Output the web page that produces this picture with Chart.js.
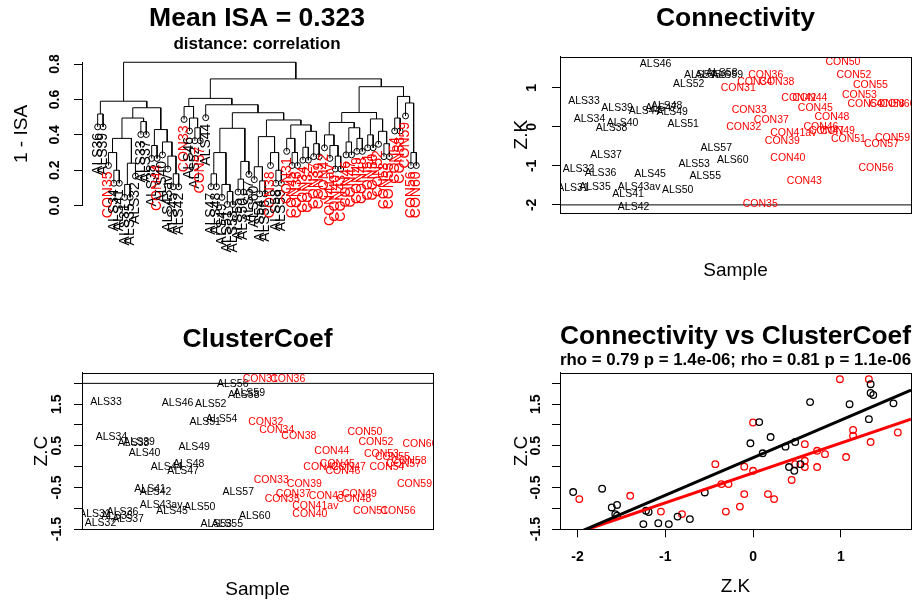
<!DOCTYPE html>
<html>
<head>
<meta charset="utf-8">
<title>Sample network</title>
<script src="https://cdn.jsdelivr.net/npm/chart.js@4.4.1/dist/chart.umd.min.js"></script>
<style>
  html, body { margin: 0; padding: 0; background: #ffffff; }
  #page { position: relative; width: 920px; height: 603px; overflow: hidden; background: #fff; }
  #page canvas { position: absolute; left: 0; top: 0; }
</style>
</head>
<body>
<div id="page">
  <canvas id="dendro" width="920" height="603"></canvas>
  <canvas id="conn" width="920" height="603"></canvas>
  <canvas id="clust" width="920" height="603"></canvas>
  <canvas id="corr" width="920" height="603"></canvas>
</div>
<script>
// ---------------- data ----------------
const sampleNames = [
  "ALS31","ALS32","ALS33","ALS34","ALS35","ALS36","ALS37","ALS38","ALS39","ALS40",
  "ALS41","ALS42","ALS43av","ALS44","ALS45","ALS46","ALS47","ALS48","ALS49","ALS50",
  "ALS51","ALS52","ALS53","ALS54","ALS55","ALS56","ALS57","ALS58","ALS59","ALS60",
  "CON31","CON32","CON33","CON34","CON35","CON36","CON37","CON38","CON39","CON40",
  "CON41av","CON42","CON43","CON44","CON45","CON46","CON47","CON48","CON49","CON50",
  "CON51","CON52","CON53","CON54","CON55","CON56","CON57","CON58","CON59","CON60"
];
const sampleIndex = [
  1,2,3,4,5,6,7,8,9,10,11,12,13,14,15,16,17,18,19,20,21,22,23,24,25,26,27,28,29,30,
  31,32,33,34,35,36,37,38,39,40,41,42,43,44,45,46,47,48,49,50,51,52,53,54,55,56,57,58,59,60
];
const connectivityZK = [
  -1.57,-1.08,0.65,0.20,-1.55,-1.19,-0.72,-0.03,0.48,0.11,
  -1.72,-2.05,-1.55,0.41,-1.22,1.60,0.47,0.54,0.37,-1.61,
  0.07,1.10,-0.96,1.32,-1.25,1.34,-0.55,1.37,1.34,-0.86,
  0.99,0.00,0.44,1.14,-1.98,1.32,0.17,1.14,-0.36,-0.81,
  -0.15,0.73,-1.40,0.73,0.48,0.00,-0.10,0.24,-0.10,1.65,
  -0.31,1.34,0.82,0.59,1.06,-1.05,-0.43,0.59,-0.28,0.59
];
const clusterCoefZC = [
  -1.14,-1.36,1.55,0.71,-1.18,-1.09,-1.26,0.56,0.59,0.32,
  -0.53,-0.61,-0.92,-0.01,-1.06,1.52,-0.10,0.06,0.48,-0.98,
  1.07,1.50,-1.38,1.14,-1.38,1.98,-0.62,1.72,1.77,-1.20,
  2.10,1.06,-0.32,0.88,-0.78,2.10,-0.66,0.74,-0.42,-1.14,
  -0.96,-0.01,-0.70,0.38,0.06,-0.10,0.00,-0.78,-0.66,0.82,
  -1.08,0.59,0.30,-0.01,0.23,-1.08,0.06,0.14,-0.42,0.54
];
// sample tree: [merge height, left, right]; leaves are sample names
const dendroTree = [0.81,
  [0.59,
    [0.518, "ALS36", "ALS39"],
    [0.553,
      [0.495,
        [0.38, [0.30, "CON35", [0.20, "ALS34", "ALS41"]], [0.24, [0.12, "ALS31", "ALS35"], "ALS32"]],
        [0.475, "ALS33", "ALS37"]],
      [0.43, [0.34, "ALS38", "CON44"], [0.36, "ALS40", [0.28, "ALS43av", [0.18, "ALS45", "ALS42"]]]]]],
  [0.716,
    [0.606,
      [0.56, "CON33", [0.495, "ALS46", [0.44, "ALS52", "CON57"]]],
      [0.57, "ALS44",
        [0.525,
          [0.437, [0.30, [0.18, "ALS47", "ALS48"], [0.12, "ALS49", [0.08, "ALS51", "ALS53"]]], [0.25, [0.15, "ALS55", "ALS50"], "ALS57"]],
          [0.484,
            [0.39, [0.22, "ALS60", [0.14, "ALS54", "ALS56"]], [0.30, "CON38", [0.20, "ALS58", "ALS59"]]],
            [0.456, [0.38, "CON31", [0.30, "CON45", "CON36"]], [0.42, [0.33, "CON34", "CON32"], [0.35, "CON37", "CON39"]]]]]]],
    [0.672,
      [0.526,
        [0.47, [0.40, "CON42", [0.34, "CON41av", [0.28, "CON40", "CON43"]]], [0.44, [0.36, "CON46", "CON47"], [0.38, "CON49", "CON48"]]],
        [0.49, [0.40, "CON51", "CON50"], [0.42, "CON52", [0.35, "CON53", "CON55"]]]],
      [0.617, [0.495, "CON54", "CON58"], [0.58, "CON59", [0.30, "CON56", "CON60"]]]]]
];
const dendroHang = 0.073;
const dendroTicks = [0, 0.2, 0.4, 0.6, 0.8];
const dendroTickLabels = ["0.0", "0.2", "0.4", "0.6", "0.8"];
const connTicks = [-2, -1, 0, 1];
const connTickLabels = ["-2", "-1", "0", "1"];
const ccTicks = [-1.5, -1, -0.5, 0, 0.5, 1, 1.5, 2];
const ccTickLabels = ["-1.5", "", "-0.5", "", "0.5", "", "1.5", ""];
const corrXTicks = [-2, -1, 0, 1];
const corrXTickLabels = ["-2", "-1", "0", "1"];
const connRefLine = -2;
const ccRefLine = 2;
const fitLineX = [-2.2, 1.8];
const fitLineALS = [-1.77, 1.84];
const fitLineCON = [-1.73, 1.14];

// ---------------- helpers ----------------
const FONT = '"Liberation Sans", Arial, Helvetica, sans-serif';
Chart.defaults.font.family = FONT;
Chart.defaults.color = '#000';
const RED = '#ff0000', BLACK = '#000000';
const isCON = n => n.indexOf('CON') === 0;
const TICK_FONT = 'bold 14px ' + FONT;

function yTickLabelPlugin(values, labels, offset, font) {
  return {
    id: 'yTickLabels',
    afterDraw(chart) {
      const ys = chart.scales.y, ctx = chart.ctx, a = chart.chartArea;
      ctx.save();
      ctx.font = font; ctx.fillStyle = '#000';
      ctx.textAlign = 'center'; ctx.textBaseline = 'middle';
      values.forEach((v, i) => {
        if (!labels[i]) return;
        const py = ys.getPixelForValue(v);
        ctx.save();
        ctx.translate(a.left - offset, py);
        ctx.rotate(-Math.PI / 2);
        ctx.fillText(labels[i], 0, 0);
        ctx.restore();
      });
      ctx.restore();
    }
  };
}
const framePlugin = {
  id: 'frame',
  afterDraw(chart) {
    const a = chart.chartArea, ctx = chart.ctx;
    ctx.save();
    ctx.strokeStyle = '#000'; ctx.lineWidth = 1;
    const l = Math.round(a.left) + 0.5, t = Math.round(a.top) + 0.5;
    ctx.strokeRect(l, t, Math.round(a.right) - Math.round(a.left), Math.round(a.bottom) - Math.round(a.top));
    ctx.restore();
  }
};
const textLabelPlugin = {
  id: 'textLabels',
  afterDatasetsDraw(chart) {
    const ctx = chart.ctx, a = chart.chartArea;
    ctx.save();
    ctx.beginPath();
    ctx.rect(a.left, a.top, a.right - a.left, a.bottom - a.top);
    ctx.clip();
    ctx.font = '10.5px ' + FONT;
    ctx.textAlign = 'center'; ctx.textBaseline = 'middle';
    chart.data.datasets.forEach((ds, di) => {
      if (!ds.textLabels) return;
      const meta = chart.getDatasetMeta(di);
      ctx.fillStyle = ds.textColor;
      meta.data.forEach((pt, i) => ctx.fillText(ds.textLabels[i], pt.x, pt.y));
    });
    ctx.restore();
  }
};

function axisStyle(extra) {
  return Object.assign({
    type: 'linear',
    grid: { display: true, drawOnChartArea: false, drawTicks: true, tickLength: 8, color: '#000', lineWidth: 1 },
    border: { display: true, color: '#000', width: 1 },
    ticks: { display: false }
  }, extra);
}
function titleOpts(text, padBottom) {
  return { display: true, text, color: '#000', fullSize: false,
    font: { size: 26.5, weight: 'bold', lineHeight: 1 }, padding: { top: 0, bottom: padBottom } };
}
const axisTitleFont = { size: 19, lineHeight: 1 };
const baseOpts = { responsive: false, animation: false, devicePixelRatio: 1, events: [] };

// split samples by group
function groupPoints(xs, ys, wantCON) {
  const pts = [], labs = [];
  sampleNames.forEach((n, i) => {
    if (isCON(n) === wantCON) { pts.push({ x: xs[i], y: ys[i] }); labs.push(n); }
  });
  return { pts, labs };
}

// ---------------- 1. dendrogram ----------------
const leaves = [], segs = [];
function layoutTree(node) {
  if (typeof node === 'string') {
    leaves.push({ name: node, x: leaves.length + 1, y: 0 });
    return { x: leaves.length, leafIdx: leaves.length - 1 };
  }
  const h = node[0];
  const L = layoutTree(node[1]);
  const R = layoutTree(node[2]);
  const yl = L.leafIdx !== undefined ? (leaves[L.leafIdx].y = h - dendroHang) : L.h;
  const yr = R.leafIdx !== undefined ? (leaves[R.leafIdx].y = h - dendroHang) : R.h;
  segs.push({ x: L.x, y: yl }, { x: L.x, y: h }, { x: R.x, y: h }, { x: R.x, y: yr }, { x: R.x, y: null });
  return { x: (L.x + R.x) / 2, h };
}
layoutTree(dendroTree);

const leafLabelPlugin = {
  id: 'leafLabels',
  afterDatasetsDraw(chart) {
    const ctx = chart.ctx, meta = chart.getDatasetMeta(1);
    ctx.save();
    ctx.font = '14px ' + FONT;
    ctx.textAlign = 'right'; ctx.textBaseline = 'middle';
    meta.data.forEach((pt, i) => {
      ctx.save();
      ctx.translate(pt.x, pt.y + 6);
      ctx.rotate(-Math.PI / 2);
      ctx.fillStyle = isCON(leaves[i].name) ? RED : BLACK;
      ctx.fillText(leaves[i].name, 0, 0);
      ctx.restore();
    });
    ctx.restore();
  }
};

new Chart(document.getElementById('dendro'), {
  type: 'scatter',
  data: {
    datasets: [
      { type: 'line', data: segs, borderColor: BLACK, borderWidth: 1, pointRadius: 0, spanGaps: false, tension: 0, clip: false, order: 1 },
      { type: 'scatter', data: leaves.map(l => ({ x: l.x, y: l.y })), pointRadius: 3, pointStyle: 'circle',
        borderColor: BLACK, backgroundColor: 'rgba(0,0,0,0)', borderWidth: 1, clip: false, order: 0 }
    ]
  },
  options: Object.assign({}, baseOpts, {
    layout: { padding: { left: 12, right: 920 - 432, top: 5.75, bottom: 603 - 205.7 } },
    plugins: {
      legend: { display: false }, tooltip: { enabled: false },
      title: titleOpts('Mean ISA = 0.323', 0),
      subtitle: { display: true, text: 'distance: correlation', color: '#000', fullSize: false,
        font: { size: 17, weight: 'bold', lineHeight: 1 }, padding: { top: 3.25, bottom: 9.75 } }
    },
    scales: {
      x: { type: 'linear', display: false, min: -1.9, max: 62.9 },
      y: axisStyle({ min: 0, max: 0.81,
        afterFit: s => { s.width = 70; },
        afterBuildTicks: s => { s.ticks = dendroTicks.map(v => ({ value: v })); },
        title: { display: true, text: '1 - ISA', color: '#000', font: axisTitleFont, padding: { top: 0.2, bottom: 0 } } })
    }
  }),
  plugins: [leafLabelPlugin, yTickLabelPlugin(dendroTicks, dendroTickLabels, 27, TICK_FONT)]
});

// ---------------- 2. Connectivity ----------------
(function () {
  const als = groupPoints(sampleIndex, connectivityZK, false);
  const con = groupPoints(sampleIndex, connectivityZK, true);
  new Chart(document.getElementById('conn'), {
    type: 'scatter',
    data: {
      datasets: [
        { data: als.pts, textLabels: als.labs, textColor: BLACK, pointRadius: 0 },
        { data: con.pts, textLabels: con.labs, textColor: RED, pointRadius: 0 },
        { type: 'line', data: [{ x: -1.36, y: connRefLine }, { x: 62.36, y: connRefLine }], borderColor: BLACK, borderWidth: 1, pointRadius: 0 }
      ]
    },
    options: Object.assign({}, baseOpts, {
      layout: { padding: { left: 510, right: 9, top: 5.75, bottom: 322.5 } },
      plugins: { legend: { display: false }, tooltip: { enabled: false }, title: titleOpts('Connectivity', 24.45) },
      scales: {
        x: { type: 'linear', min: -1.36, max: 62.36, afterFit: s => { s.height = 67.8; },
          grid: { display: false }, border: { display: false }, ticks: { display: false },
          title: { display: true, text: 'Sample', color: '#000', font: axisTitleFont, padding: { top: 0, bottom: 0 } } },
        y: axisStyle({ min: -2.2, max: 1.8,
          afterFit: s => { s.width = 50; },
          afterBuildTicks: s => { s.ticks = connTicks.map(v => ({ value: v })); },
          title: { display: true, text: 'Z.K', color: '#000', font: axisTitleFont, padding: { top: 2.5, bottom: 0 } } })
      }
    }),
    plugins: [textLabelPlugin, framePlugin, yTickLabelPlugin(connTicks, connTickLabels, 28, TICK_FONT)]
  });
})();

// ---------------- 3. ClusterCoef ----------------
(function () {
  const als = groupPoints(sampleIndex, clusterCoefZC, false);
  const con = groupPoints(sampleIndex, clusterCoefZC, true);
  new Chart(document.getElementById('clust'), {
    type: 'scatter',
    data: {
      datasets: [
        { data: als.pts, textLabels: als.labs, textColor: BLACK, pointRadius: 0 },
        { data: con.pts, textLabels: con.labs, textColor: RED, pointRadius: 0 },
        { type: 'line', data: [{ x: -1.36, y: ccRefLine }, { x: 62.36, y: ccRefLine }], borderColor: BLACK, borderWidth: 1, pointRadius: 0 }
      ]
    },
    options: Object.assign({}, baseOpts, {
      layout: { padding: { left: 12, right: 487, top: 326.75, bottom: 3.5 } },
      plugins: { legend: { display: false }, tooltip: { enabled: false }, title: titleOpts('ClusterCoef', 19.45) },
      scales: {
        x: { type: 'linear', min: -1.36, max: 62.36, afterFit: s => { s.height = 70.2; },
          grid: { display: false }, border: { display: false }, ticks: { display: false },
          title: { display: true, text: 'Sample', color: '#000', font: axisTitleFont, padding: { top: 0, bottom: 0 } } },
        y: axisStyle({ min: -1.505, max: 2.256,
          afterFit: s => { s.width = 70; },
          afterBuildTicks: s => { s.ticks = ccTicks.map(v => ({ value: v })); },
          title: { display: true, text: 'Z.C', color: '#000', font: axisTitleFont, padding: { top: 20.5, bottom: 0 } } })
      }
    }),
    plugins: [textLabelPlugin, framePlugin, yTickLabelPlugin(ccTicks, ccTickLabels, 25, TICK_FONT)]
  });
})();

// ---------------- 4. Connectivity vs ClusterCoef ----------------
(function () {
  const als = groupPoints(connectivityZK, clusterCoefZC, false);
  const con = groupPoints(connectivityZK, clusterCoefZC, true);
  const circle = (c) => ({ pointRadius: 3.3, pointStyle: 'circle', borderColor: c, backgroundColor: 'rgba(0,0,0,0)', borderWidth: 1.3, order: 2 });
  new Chart(document.getElementById('corr'), {
    type: 'scatter',
    data: {
      datasets: [
        Object.assign({ data: als.pts }, circle(BLACK)),
        Object.assign({ data: con.pts }, circle(RED)),
        { type: 'line', data: fitLineX.map((x, i) => ({ x, y: fitLineALS[i] })), borderColor: BLACK, borderWidth: 3, pointRadius: 0, order: 0 },
        { type: 'line', data: fitLineX.map((x, i) => ({ x, y: fitLineCON[i] })), borderColor: RED, borderWidth: 3, pointRadius: 0, order: 1 }
      ]
    },
    options: Object.assign({}, baseOpts, {
      layout: { padding: { left: 510, right: 9, top: 323.75, bottom: 6.5 } },
      plugins: {
        legend: { display: false }, tooltip: { enabled: false },
        title: titleOpts('Connectivity vs ClusterCoef', 0),
        subtitle: { display: true, text: 'rho = 0.79 p = 1.4e-06; rho = 0.81 p = 1.1e-06', color: '#000', fullSize: false,
          font: { size: 17, weight: 'bold', lineHeight: 1 }, padding: { top: 1.25, bottom: 4.2 } }
      },
      scales: {
        x: axisStyle({ min: -2.2, max: 1.8,
          afterFit: s => { s.height = 67.2; },
          afterBuildTicks: s => { s.ticks = corrXTicks.map(v => ({ value: v })); },
          ticks: { display: true, padding: 11, font: { size: 14, weight: 'bold' }, color: '#000',
            callback: (v, i) => corrXTickLabels[i] },
          title: { display: true, text: 'Z.K', color: '#000', font: axisTitleFont, padding: { top: 0, bottom: 0 } } }),
        y: axisStyle({ min: -1.505, max: 2.256,
          afterFit: s => { s.width = 50; },
          afterBuildTicks: s => { s.ticks = ccTicks.map(v => ({ value: v })); },
          title: { display: true, text: 'Z.C', color: '#000', font: axisTitleFont, padding: { top: 2.5, bottom: 0 } } })
      }
    }),
    plugins: [framePlugin, yTickLabelPlugin(ccTicks, ccTickLabels, 24, TICK_FONT)]
  });
})();
</script>
</body>
</html>
